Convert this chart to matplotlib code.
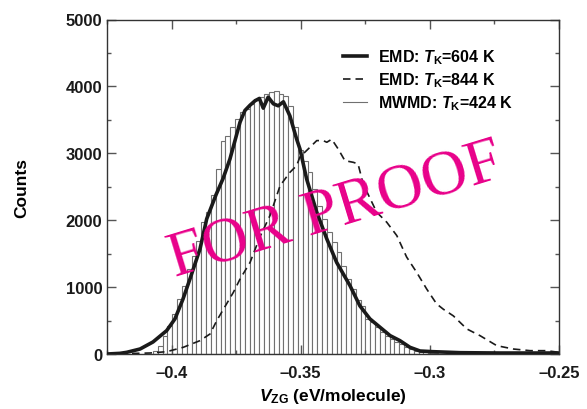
import numpy as np
import matplotlib
matplotlib.use("Agg")
import matplotlib.pyplot as plt
from matplotlib.ticker import MultipleLocator

plt.rcParams['font.family'] = ['Liberation Sans', 'DejaVu Sans']
plt.rcParams['font.weight'] = 'bold'
plt.rcParams['axes.labelweight'] = 'bold'
plt.rcParams['mathtext.fontset'] = 'custom'
plt.rcParams['mathtext.it'] = 'Liberation Sans:italic:bold'
plt.rcParams['mathtext.rm'] = 'Liberation Sans:bold'
plt.rcParams['axes.unicode_minus'] = True

# MWMD histogram (T_K = 424 K)
hist_start = -0.4072
hist_width = 0.00187
hist_counts = [50, 125, 275, 425, 600, 820, 1020, 1270, 1470, 1690,
               1970, 2120, 2370, 2765, 3190, 3265, 3390, 3510, 3615, 3660,
               3740, 3810, 3840, 3890, 3920, 3925, 3890, 3860, 3700, 3400,
               3050, 2890, 2720, 2465, 2215, 2020, 1820, 1670, 1520, 1320,
               1120, 970, 800, 720, 520, 475, 400, 330, 275, 225,
               180, 150, 100, 75, 50, 35, 25, 15, 10]

# EMD, T_K = 604 K
emd604_x = [-0.4250, -0.4200, -0.4174, -0.4122, -0.4072, -0.4019, -0.3987, -0.3956,
            -0.3929, -0.3890, -0.3864, -0.3828, -0.3801, -0.3774, -0.3735, -0.3716,
            -0.3696, -0.3677, -0.3660, -0.3645, -0.3626, -0.3606, -0.3587, -0.3567,
            -0.3542, -0.3516, -0.3503, -0.3477, -0.3438, -0.3399, -0.3361, -0.3309,
            -0.3271, -0.3232, -0.3193, -0.3154, -0.3116, -0.3077, -0.3038, -0.2988,
            -0.2883, -0.2729, -0.2612, -0.2500]
emd604_y = [0, 10, 25, 75, 180, 350, 525, 820,
            1120, 1570, 2020, 2380, 2620, 2915, 3465, 3640,
            3720, 3785, 3820, 3675, 3840, 3740, 3710, 3770,
            3560, 3215, 3065, 2615, 2120, 1720, 1370, 1020,
            720, 525, 400, 275, 200, 100, 45, 35,
            20, 15, 15, 15]

# EMD, T_K = 844 K
emd844_x = [-0.4250, -0.4084, -0.4019, -0.3955, -0.3890, -0.3851, -0.3825, -0.3787,
            -0.3761, -0.3735, -0.3696, -0.3658, -0.3619, -0.3580, -0.3542, -0.3516,
            -0.3503, -0.3471, -0.3438, -0.3413, -0.3399, -0.3380, -0.3355, -0.3329,
            -0.3296, -0.3278, -0.3258, -0.3206, -0.3167, -0.3128, -0.3090, -0.3051,
            -0.3012, -0.2974, -0.2948, -0.2909, -0.2857, -0.2806, -0.2741, -0.2677,
            -0.2612, -0.2548, -0.2500]
emd844_y = [0, 15, 35, 100, 200, 300, 500, 750,
            920, 1120, 1370, 1750, 2070, 2515, 2715, 2815,
            2945, 3065, 3190, 3190, 3165, 3210, 3065, 2890,
            2865, 2840, 2540, 2120, 1970, 1770, 1450, 1220,
            970, 750, 670, 570, 375, 275, 125, 75,
            50, 50, 25]

x_ticks = [-0.4, -0.35, -0.3, -0.25]
x_ticklabels = ['\u20130.4', '\u20130.35', '\u20130.3', '\u20130.25']
y_ticks = [0, 1000, 2000, 3000, 4000, 5000]

fig = plt.figure(figsize=(5.87, 4.10), dpi=100)
ax = fig.add_axes([0.1823, 0.1341, 0.7700, 0.8159])

edges = hist_start + hist_width * np.arange(len(hist_counts))
ax.bar(edges, hist_counts, width=hist_width, align='edge', facecolor='white',
       edgecolor='#707070', linewidth=0.8, zorder=1)
ax.plot(emd604_x, emd604_y, color='#1a1a1a', lw=2.6, zorder=3,
        label='EMD: $T_\\mathrm{K}$=604 K')
ax.plot(emd844_x, emd844_y, color='#1a1a1a', lw=1.2, dashes=(4.5, 3), zorder=2,
        label='EMD: $T_\\mathrm{K}$=844 K')
ax.plot([], [], color='#707070', lw=0.8, label='MWMD: $T_\\mathrm{K}$=424 K')

ax.set_xlim(-0.425, -0.25)
ax.set_ylim(0, 5000)
ax.set_xticks(x_ticks)
ax.set_xticklabels(x_ticklabels)
ax.set_yticks(y_ticks)
ax.xaxis.set_minor_locator(MultipleLocator(0.025))
ax.yaxis.set_minor_locator(MultipleLocator(500))
ax.tick_params(which='both', direction='in', top=True, right=True,
               colors='#555555', labelcolor='#1a1a1a', labelsize=12, width=1)
ax.tick_params(which='major', length=6.5)
ax.tick_params(which='minor', length=3)
ax.tick_params(axis='x', pad=8)
for s in ax.spines.values():
    s.set_color('#333333')
    s.set_linewidth(1)

ax.set_xlabel('$V_\\mathrm{ZG}$ (eV/molecule)', fontsize=12.5, labelpad=4)
ax.set_ylabel('Counts', fontsize=12.5, labelpad=26)

ax.legend(loc='upper left', bbox_to_anchor=(0.49, 0.96), frameon=False,
          fontsize=11.5, handlelength=1.5, handletextpad=0.7, labelspacing=0.28)

fig.text(0.572, 0.483, 'FOR PROOF', color='#e8008a', fontsize=46,
         family='Liberation Serif', weight='normal', rotation=17,
         ha='center', va='center', zorder=10)

fig.savefig('out.png', dpi=100)
